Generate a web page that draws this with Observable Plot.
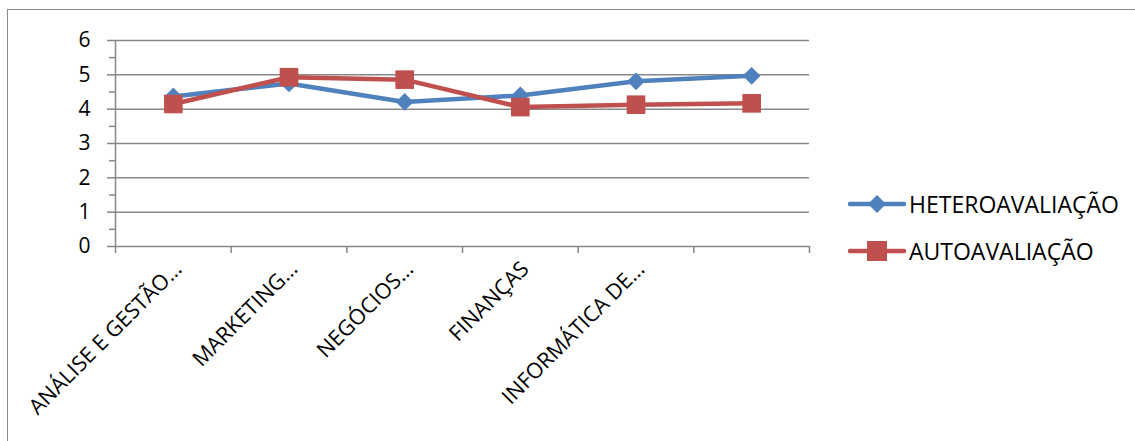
<!DOCTYPE html>
<html>
<head>
<meta charset="utf-8">
<script src="https://cdn.jsdelivr.net/npm/d3@7"></script>
<script src="https://cdn.jsdelivr.net/npm/@observablehq/plot@0.6"></script>
<style>
  html, body { margin: 0; padding: 0; background: #fff; overflow: hidden; }
  #wrap { position: relative; width: 1135px; height: 441px; font-family: "Open Sans", sans-serif; }
  #frame { position: absolute; left: 7px; top: 9px; width: 1400px; height: 800px; border: 1.5px solid #8a8a8a; box-sizing: border-box; }
  #chart { position: absolute; left: 0; top: 0; }
  #legend { position: absolute; left: 848px; top: 186px; font-size: 23px; color: #000; }
  .item { display: flex; align-items: center; height: 36px; margin-bottom: 11px; }
  .item svg { margin-right: 3px; }
</style>
</head>
<body>
<div id="wrap">
  <div id="frame"></div>
  <div id="chart"></div>
  <div id="legend"></div>
</div>
<script>
const categories = ["ANÁLISE E GESTÃO…", "MARKETING…", "NEGÓCIOS…", "FINANÇAS", "INFORMÁTICA DE…", ""];
const heteroavaliacao = [4.37, 4.75, 4.21, 4.40, 4.81, 4.97];
const autoavaliacao = [4.15, 4.93, 4.86, 4.06, 4.13, 4.17];
const seriesNames = ["HETEROAVALIAÇÃO", "AUTOAVALIAÇÃO"];
const yTicks = [0, 1, 2, 3, 4, 5, 6];

const blue = "#4F81BD", red = "#C0504D", grid = "#878787";

const hetero = categories.map((c, i) => ({i, v: heteroavaliacao[i]}));
const auto = categories.map((c, i) => ({i, v: autoavaliacao[i]}));
const labels = categories.map((c, i) => ({i, c}));

const chart = Plot.plot({
  width: 1135,
  height: 441,
  marginLeft: 115,
  marginRight: 326,
  marginTop: 40,
  marginBottom: 195,
  style: {fontFamily: "'Open Sans', sans-serif", background: "transparent"},
  x: {type: "linear", domain: [0, categories.length], axis: null},
  y: {domain: [0, 6], axis: null},
  marks: [
    Plot.gridY(yTicks.filter(d => d > 0), {stroke: grid, strokeOpacity: 1, strokeWidth: 1.5}),
    Plot.axisY(d3.range(0.5, 6, 1), {tickSize: 6, text: null, label: null, stroke: grid, strokeWidth: 1.5}),
    Plot.axisY(yTicks, {tickSize: 8, text: null, label: null, stroke: grid, strokeWidth: 1.5}),
    Plot.axisY(yTicks, {tickSize: 0, tickPadding: 25, label: null, fontSize: 21, fill: "#000"}),
    Plot.ruleX([0], {stroke: grid, strokeWidth: 1.5}),
    Plot.ruleY([0], {stroke: grid, strokeWidth: 1.5}),
    Plot.axisX(d3.range(0, categories.length + 1), {tickSize: 7, text: null, label: null, stroke: grid, strokeWidth: 1.5}),
    Plot.text(labels, {x: d => d.i + 0.5, y: 0, text: "c", rotate: -45, textAnchor: "end", lineAnchor: "top", dx: -1, dy: 13, fontSize: 21.5, fill: "#000"}),
    Plot.line(hetero, {x: d => d.i + 0.5, y: "v", stroke: blue, strokeWidth: 4.5}),
    Plot.line(auto, {x: d => d.i + 0.5, y: "v", stroke: red, strokeWidth: 4.5}),
    Plot.dot(hetero, {x: d => d.i + 0.5, y: "v", symbol: "diamond2", r: 8, fill: blue}),
    Plot.dot(auto, {x: d => d.i + 0.5, y: "v", symbol: "square", r: 10.5, fill: red})
  ]
});
document.getElementById("chart").appendChild(chart);

const legend = document.getElementById("legend");
const colors = [blue, red];
seriesNames.forEach((name, k) => {
  const item = document.createElement("div");
  item.className = "item";
  const sym = k === 0
    ? `<path d="M29,9 L38,18 L29,27 L20,18 Z" fill="${blue}"/>`
    : `<rect x="19" y="8" width="20" height="20" fill="${red}"/>`;
  item.innerHTML = `<svg width="58" height="36"><line x1="2" y1="18" x2="56" y2="18" stroke="${colors[k]}" stroke-width="4.5" stroke-linecap="round"/>${sym}</svg><span>${name}</span>`;
  legend.appendChild(item);
});
</script>
</body>
</html>
